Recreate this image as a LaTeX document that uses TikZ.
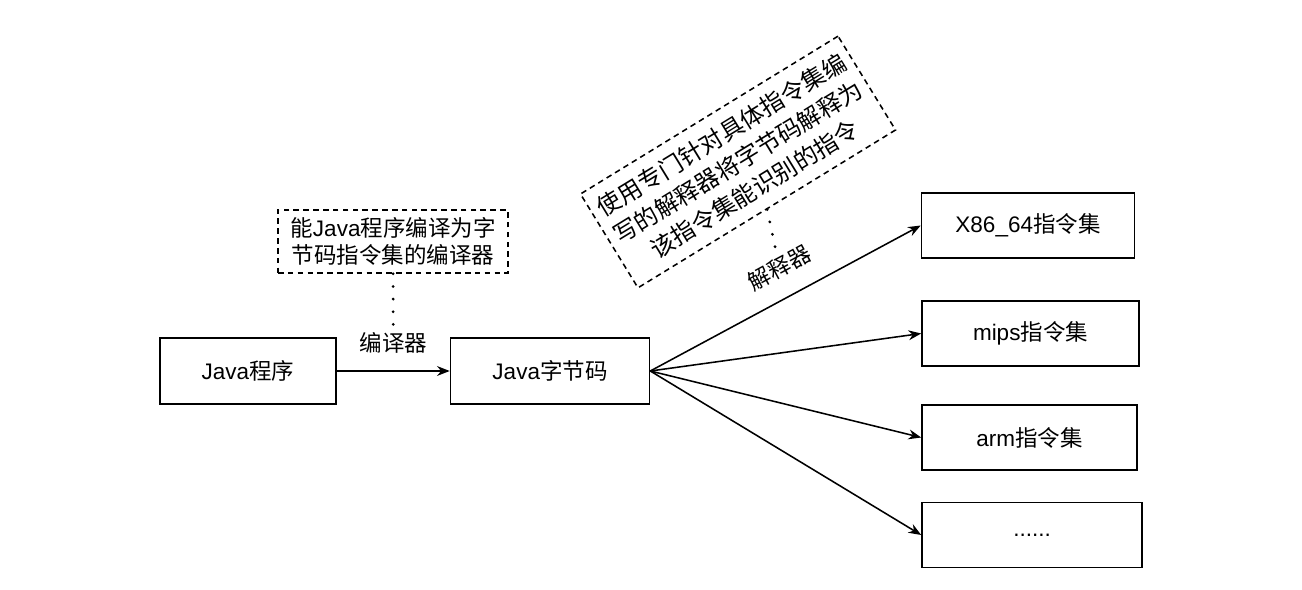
\documentclass[tikz,border=0pt]{standalone}
\usepackage{fontspec}
\setmainfont{Liberation Sans}
\newfontfamily\cjk{Noto Sans CJK SC}
\usetikzlibrary{arrows.meta}
\newcommand{\zh}[1]{{\cjk #1}}

\begin{document}
\begin{tikzpicture}[x=0.025cm, y=-0.025cm, line width=1.1pt, >={Stealth[length=9pt,width=7pt]},
  every node/.style={font=\fontsize{16}{19.5}\selectfont},
  box/.style={draw, minimum height=1.65cm, inner sep=2pt},
  note/.style={draw, dash pattern=on 4pt off 3pt, align=center, inner sep=2pt},
  link/.style={line width=2.2pt, dash pattern=on 0pt off 9pt, line cap=round}]
\useasboundingbox (0,0) rectangle (1302,590);
\node[box, minimum width=4.4cm] (jprog) at (248,371) {Java\zh{程序}};
\node[box, minimum width=4.975cm] (jbc) at (550,371) {Java\zh{字节码}};
\node[box, minimum width=5.325cm, minimum height=1.625cm] (x86) at (1028,225.5) {X86\_64\zh{指令集}};
\node[box, minimum width=5.425cm, minimum height=1.625cm] (mips) at (1030.5,333.5) {mips\zh{指令集}};
\node[box, minimum width=5.375cm, minimum height=1.625cm] (arm) at (1029.5,437.5) {arm\zh{指令集}};
\node[box, minimum width=5.5cm, minimum height=1.625cm] (more) at (1032,535) {......};
% compiler
\node[note, minimum width=5.75cm, minimum height=1.575cm] (cnote) at (393,241.5) {\zh{能}Java\zh{程序编译为字}\\\zh{节码指令集的编译器}};
\draw[->] (jprog) -- (jbc) node[midway, above=9pt] (clab) {\zh{编译器}};
\draw[link] (cnote) -- (clab);
% interpreters
\node[note, rotate=31.5, minimum width=7.55cm, minimum height=2.75cm, font=\fontsize{17}{22.5}\selectfont] (inote) at (738,162) {\zh{使用专门针对具体指令集编}\\\zh{写的解释器将字节码解释为}\\\zh{该指令集能识别的指令}};
\draw[->] (jbc.east) -- (x86.west) node[pos=0.53, sloped, above=10pt] (ilab) {\zh{解释器}};
\draw[->] (jbc.east) -- (mips.west);
\draw[->] (jbc.east) -- (arm.west);
\draw[->] (jbc.east) -- (more.west);
\draw[link] (inote.south) -- (ilab);
\end{tikzpicture}
\end{document}
